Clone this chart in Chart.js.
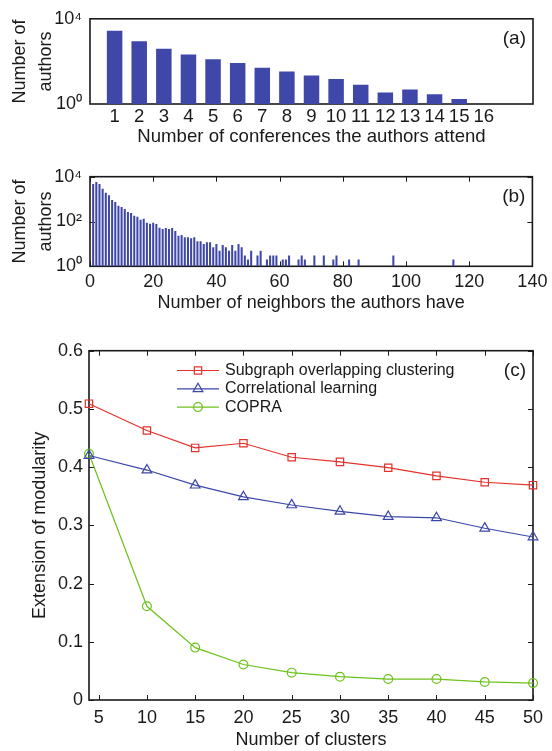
<!DOCTYPE html>
<html>
<head>
<meta charset="utf-8">
<script src="https://cdn.jsdelivr.net/npm/chart.js@4.4.1/dist/chart.umd.min.js"></script>
<style>
    body { margin: 0; background: #fff; }
    #wrap { position: relative; width: 552px; height: 751px; }
    canvas { position: absolute; left: 0; }
</style>
</head>
<body>
<div id="wrap">
    <canvas id="chart-a" width="552" height="152" style="top:0px"></canvas>
    <canvas id="chart-b" width="552" height="166" style="top:152px"></canvas>
    <canvas id="chart-c" width="552" height="433" style="top:318px"></canvas>
</div>
<script>
// (a) number of conferences attended
const conferences = [1, 2, 3, 4, 5, 6, 7, 8, 9, 10, 11, 12, 13, 14, 15, 16];
const conferenceAuthors = [2730, 885, 392, 212, 127, 84, 50, 34, 22, 15, 8, 3.5, 4.8, 2.9, 1.7, 1];

// (b) number of neighbors
const neighborDegrees = [1, 2, 3, 4, 5, 6, 7, 8, 9, 10, 11, 12, 13, 14, 15, 16, 17, 18, 19, 20,
    21, 22, 23, 24, 25, 26, 27, 28, 29, 30, 31, 32, 33, 34, 35, 36, 37, 38, 39, 40,
    41, 42, 43, 44, 45, 46, 47, 48, 49, 50, 51, 53, 54, 56, 57, 58, 59, 61, 62, 63,
    66, 67, 68, 71, 74, 77, 78, 82, 85, 96, 115];
const neighborAuthors = [4750, 5800, 4750, 2930, 1940, 1480, 910, 745, 510, 445, 363, 268, 240, 182, 165, 121, 134, 89, 80, 89,
    78, 52, 46, 51, 46, 51, 38, 23, 25, 20, 20, 18, 20, 13, 13, 10, 12, 12, 7, 10,
    5, 9, 7, 5, 9, 5, 10, 7, 3, 2, 5, 3, 5, 2, 3, 3, 3, 2, 2, 3,
    2, 3, 2, 3, 3, 2, 3, 2, 2, 3, 2];
const neighborTicks = [0, 20, 40, 60, 80, 100, 120, 140];

// (c) modularity vs number of clusters
const clusterCounts = [4, 10, 15, 20, 25, 30, 35, 40, 45, 50];
const clusterTicks = [5, 10, 15, 20, 25, 30, 35, 40, 45, 50];
const subgraphValues = [0.509, 0.463, 0.433, 0.441, 0.417, 0.409, 0.399, 0.385, 0.374, 0.369];
const correlationalValues = [0.420, 0.395, 0.369, 0.349, 0.335, 0.324, 0.315, 0.313, 0.295, 0.280];
const copraValues = [0.423, 0.161, 0.090, 0.061, 0.047, 0.040, 0.036, 0.036, 0.031, 0.029];
const seriesNames = ['Subgraph overlapping clustering', 'Correlational learning', 'COPRA'];

const FONT = "'Liberation Sans', Arial, Helvetica, sans-serif";
const INK = '#1a1a1a';
const BAR_BLUE = '#3f48a8';

Chart.defaults.font.family = FONT;
Chart.defaults.font.size = 18;
Chart.defaults.color = INK;

const SUP = { 0: '\u2070', 1: '\u00b9', 2: '\u00b2', 3: '\u00b3', 4: '\u2074' };
function powLabel(v) {
    return '10' + SUP[Math.round(Math.log10(v))];
}

// box round the plot + small ticks pointing inwards (matlab style)
const framePlugin = {
    id: 'frame',
    beforeDatasetsDraw(chart, args, opts) {
        const { ctx, chartArea: a, scales } = chart;
        const len = 5;
        ctx.save();
        ctx.strokeStyle = INK;
        ctx.lineWidth = 1;
        ctx.beginPath();
        if (opts.xTicks) {
            scales.x.ticks.forEach(t => {
                const px = Math.round(scales.x.getPixelForValue(t.value)) + 0.5;
                ctx.moveTo(px, a.bottom); ctx.lineTo(px, a.bottom - len);
                ctx.moveTo(px, a.top); ctx.lineTo(px, a.top + len);
            });
        }
        if (opts.yTicks) {
            scales.y.ticks.forEach(t => {
                const py = Math.round(scales.y.getPixelForValue(t.value)) + 0.5;
                ctx.moveTo(a.left, py); ctx.lineTo(a.left + len, py);
                ctx.moveTo(a.right, py); ctx.lineTo(a.right - len, py);
            });
        }
        ctx.stroke();
        ctx.lineWidth = 1.6;
        ctx.strokeRect(a.left, a.top, a.right - a.left, a.bottom - a.top);
        ctx.restore();
    }
};

// (a) (b) (c) tags
const tagPlugin = {
    id: 'tag',
    afterDraw(chart, args, opts) {
        const { ctx, chartArea: a } = chart;
        ctx.save();
        ctx.font = '19px ' + FONT;
        ctx.fillStyle = INK;
        ctx.textAlign = 'right';
        ctx.textBaseline = 'middle';
        ctx.fillText(opts.text, a.right - 7, a.top + 20);
        ctx.restore();
    }
};

function drawMarker(ctx, style, x, y, r) {
    if (Chart.helpers && Chart.helpers.drawPoint) {
        Chart.helpers.drawPoint(ctx, { pointStyle: style, radius: r, rotation: 0, borderWidth: 1.2 }, x, y);
        return;
    }
    ctx.beginPath();
    if (style === 'rect') {
        const s = r * Math.SQRT1_2;
        ctx.rect(x - s, y - s, 2 * s, 2 * s);
    } else if (style === 'triangle') {
        ctx.moveTo(x, y - r);
        ctx.lineTo(x + r * 0.866, y + r / 2);
        ctx.lineTo(x - r * 0.866, y + r / 2);
        ctx.closePath();
    } else {
        ctx.arc(x, y, r, 0, Math.PI * 2);
    }
    ctx.stroke();
}

// legend with line + marker, placed inside the plot
const lineLegend = {
    id: 'lineLegend',
    afterDatasetsDraw(chart, args, opts) {
        const ctx = chart.ctx;
        ctx.save();
        ctx.font = '16px ' + FONT;
        ctx.textBaseline = 'middle';
        ctx.textAlign = 'left';
        chart.data.datasets.forEach((ds, i) => {
            const y = opts.y + i * opts.rowGap;
            ctx.strokeStyle = ds.borderColor;
            ctx.lineWidth = 1.2;
            ctx.beginPath();
            ctx.moveTo(opts.x, y);
            ctx.lineTo(opts.x + opts.lineLen, y);
            ctx.stroke();
            ctx.fillStyle = 'rgba(255,255,255,0)';
            drawMarker(ctx, ds.pointStyle, opts.x + opts.lineLen / 2, y, ds.pointRadius);
            ctx.fillStyle = INK;
            ctx.fillText(ds.label, opts.x + opts.lineLen + 6, y);
        });
        ctx.restore();
    }
};

const ctxA = document.getElementById('chart-a');
new Chart(ctxA, {
    type: 'bar',
    data: {
        datasets: [{
            data: conferences.map((c, i) => ({ x: c, y: conferenceAuthors[i] })),
            backgroundColor: BAR_BLUE,
            borderWidth: 0,
            barPercentage: 0.63,
            categoryPercentage: 1
        }]
    },
    options: {
        responsive: false,
        animation: false,
        events: [],
        layout: { padding: { top: 14, right: 19, left: 0, bottom: 0 } },
        scales: {
            x: {
                type: 'linear',
                min: 0,
                max: 18,
                offset: false,
                grid: { display: false, drawTicks: false },
                border: { display: false },
                ticks: { padding: 2, autoSkip: false, maxRotation: 0, font: { size: 18.6 } },
                afterBuildTicks: s => { s.ticks = conferences.map(v => ({ value: v })); },
                afterFit: s => { s.height = 48; },
                title: { display: true, text: 'Number of conferences the authors attend', font: { size: 18.6 }, padding: { top: 0, bottom: 4 } }
            },
            y: {
                type: 'logarithmic',
                min: 1,
                max: 10000,
                grid: { display: false, drawTicks: false },
                border: { display: false },
                ticks: { padding: 8, callback: v => powLabel(v) },
                afterBuildTicks: s => { s.ticks = [{ value: 1 }, { value: 10000 }]; },
                afterFit: s => { s.width = 90; },
                title: { display: true, text: ['Number of', 'authors'], font: { lineHeight: '26px' }, padding: { top: 7, bottom: 0 } }
            }
        },
        plugins: {
            legend: { display: false },
            tooltip: { enabled: false },
            frame: { xTicks: false, yTicks: false },
            tag: { text: '(a)' }
        }
    },
    plugins: [framePlugin, tagPlugin]
});

const ctxB = document.getElementById('chart-b');
new Chart(ctxB, {
    type: 'bar',
    data: {
        datasets: [{
            data: neighborDegrees.map((d, i) => ({ x: d, y: neighborAuthors[i] })),
            backgroundColor: BAR_BLUE,
            borderWidth: 0,
            barPercentage: 0.65,
            categoryPercentage: 1
        }]
    },
    options: {
        responsive: false,
        animation: false,
        events: [],
        layout: { padding: { top: 24.7, right: 19, left: 0, bottom: 0 } },
        scales: {
            x: {
                type: 'linear',
                min: 0,
                max: 140,
                offset: false,
                grid: { display: false, drawTicks: false },
                border: { display: false },
                ticks: { padding: 4.6, autoSkip: false, maxRotation: 0 },
                afterBuildTicks: s => { s.ticks = neighborTicks.map(v => ({ value: v })); },
                afterFit: s => { s.height = 51.7; },
                title: { display: true, text: 'Number of neighbors the authors have', padding: { top: 0, bottom: 4 } }
            },
            y: {
                type: 'logarithmic',
                min: 1,
                max: 10000,
                grid: { display: false, drawTicks: false },
                border: { display: false },
                ticks: { padding: 8, callback: v => powLabel(v) },
                afterBuildTicks: s => { s.ticks = [{ value: 1 }, { value: 100 }, { value: 10000 }]; },
                afterFit: s => { s.width = 90; },
                title: { display: true, text: ['Number of', 'authors'], font: { lineHeight: '26px' }, padding: { top: 7, bottom: 0 } }
            }
        },
        plugins: {
            legend: { display: false },
            tooltip: { enabled: false },
            frame: { xTicks: true, yTicks: true },
            tag: { text: '(b)' }
        }
    },
    plugins: [framePlugin, tagPlugin]
});

const lineColors = ['#e4312b', '#3b47a8', '#6cc21a'];
const markerStyles = ['rect', 'triangle', 'circle'];
const markerSizes = [5.2, 5.6, 4.4];
const seriesValues = [subgraphValues, correlationalValues, copraValues];

const ctxC = document.getElementById('chart-c');
new Chart(ctxC, {
    type: 'line',
    data: {
        datasets: seriesValues.map((vals, k) => ({
            label: seriesNames[k],
            data: clusterCounts.map((c, i) => ({ x: c, y: vals[i] })),
            borderColor: lineColors[k],
            borderWidth: 1.2,
            tension: 0,
            pointStyle: markerStyles[k],
            pointRadius: markerSizes[k],
            pointBorderWidth: 1.2,
            pointBorderColor: lineColors[k],
            pointBackgroundColor: 'rgba(255,255,255,0)',
            clip: false
        }))
    },
    options: {
        responsive: false,
        animation: false,
        events: [],
        layout: { padding: { top: 32.7, right: 19, left: 0, bottom: 0 } },
        scales: {
            x: {
                type: 'linear',
                min: 4,
                max: 50,
                grid: { display: false, drawTicks: false },
                border: { display: false },
                ticks: { padding: 7, autoSkip: false, maxRotation: 0 },
                afterBuildTicks: s => { s.ticks = clusterTicks.map(v => ({ value: v })); },
                afterFit: s => { s.height = 51; },
                title: { display: true, text: 'Number of clusters', padding: { top: 0, bottom: 0 } }
            },
            y: {
                min: 0,
                max: 0.6,
                grid: { display: false, drawTicks: false },
                border: { display: false },
                ticks: { stepSize: 0.1, padding: 6 },
                afterFit: s => { s.width = 89; },
                title: { display: true, text: 'Extension of modularity', padding: { top: 29, bottom: 0 } }
            }
        },
        plugins: {
            legend: { display: false },
            tooltip: { enabled: false },
            frame: { xTicks: true, yTicks: true },
            tag: { text: '(c)' },
            lineLegend: { x: 177, y: 52.5, rowGap: 18.3, lineLen: 42 }
        }
    },
    plugins: [framePlugin, tagPlugin, lineLegend]
});
</script>
</body>
</html>
